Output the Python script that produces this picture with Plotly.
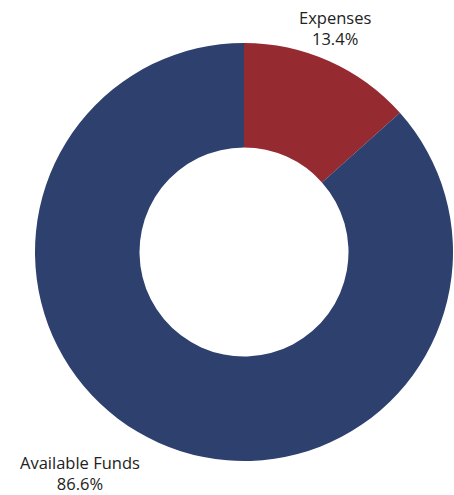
import plotly.graph_objects as go

labels = ["Expenses", "Available Funds"]
values = [13.4, 86.6]
colors = ["#952A30", "#2E406E"]

fig = go.Figure(go.Pie(
    labels=labels, values=values, hole=0.5, sort=False,
    direction="clockwise", rotation=0,
    marker=dict(colors=colors, line=dict(width=0)),
    textinfo="none", hoverinfo="label+percent", showlegend=False,
))

W, H = 454, 495
L, R, T, B = 35, 1, 43, 34
plot_w = W - L - R
plot_h = H - T - B

label_pos = [(335, 28), (80, 473)]  # page pixels (centre of text block)
for lab, val, (px, py) in zip(labels, values, label_pos):
    fig.add_annotation(
        x=(px - L) / plot_w, y=1 - (py - T) / plot_h,
        xref="paper", yref="paper",
        text=f"{lab}<br>{val:.1f}%", showarrow=False,
        font=dict(family="Open Sans", size=16.5, color="#222222"),
        align="center", xanchor="center", yanchor="middle",
    )

fig.update_layout(
    width=W, height=H,
    margin=dict(l=L, r=R, t=T, b=B),
    paper_bgcolor="white", plot_bgcolor="white",
)

fig.write_html(
    "out.html",
    config={"displayModeBar": False},
    post_script="document.body.style.margin='0';document.body.style.overflow='hidden';",
)
